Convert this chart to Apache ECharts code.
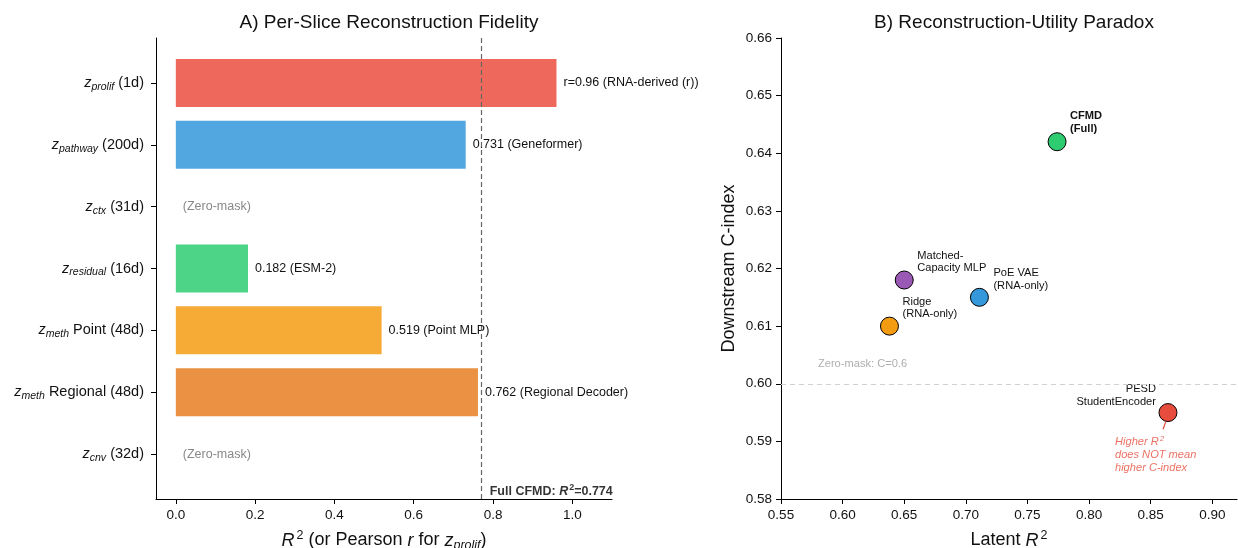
<!DOCTYPE html>
<html>
<head>
<meta charset="utf-8">
<script src="https://cdn.jsdelivr.net/npm/echarts@6/dist/echarts.min.js"></script>
<style>html,body{margin:0;padding:0;background:#fff}#c{width:1238px;height:548px}</style>
</head>
<body>
<div id="c"></div>
<script>
// ---- Panel A data ----
var sliceSubs = ['prolif', 'pathway', 'ctx', 'residual', 'meth', 'meth', 'cnv'];
var sliceSuffix = ['(1d)', '(200d)', '(31d)', '(16d)', 'Point (48d)', 'Regional (48d)', '(32d)'];
var sliceR2 = [0.96, 0.731, 0, 0.182, 0.519, 0.762, 0];
var sliceNotes = ['r=0.96 (RNA-derived (r))', '0.731 (Geneformer)', '(Zero-mask)', '0.182 (ESM-2)', '0.519 (Point MLP)', '0.762 (Regional Decoder)', '(Zero-mask)'];
var sliceColors = ['#EE695C', '#52A7E0', '#9b59b6', '#4DD486', '#F5AB36', '#EA9143', '#95a5a6'];
var fullCFMD = 0.774;
var xTicksA = [0, 0.2, 0.4, 0.6, 0.8, 1.0];

// ---- Panel B data ----
var methodNames = ['CFMD\n(Full)', 'Matched-\nCapacity MLP', 'PoE VAE\n(RNA-only)', 'Ridge\n(RNA-only)', 'PESD\nStudentEncoder'];
var latentR2 = [0.774, 0.650, 0.711, 0.638, 0.864];
var cIndex = [0.642, 0.618, 0.615, 0.610, 0.595];
var methodColors = ['#2ecc71', '#9b59b6', '#3498db', '#f39c12', '#e74c3c'];
var zeroMaskC = 0.6;

var FONT = 'Liberation Sans, Arial, sans-serif';
var chart = echarts.init(document.getElementById('c'));

var categories = sliceSubs.map(function (s, i) { return 'z_' + s + ' ' + sliceSuffix[i]; });

var barData = sliceR2.map(function (v, i) {
  return {
    value: v,
    itemStyle: { color: sliceColors[i] },
    label: { color: v === 0 ? '#888' : '#111' }
  };
});

// label placement per method (relative to marker centre)
var labelAlign = ['left', 'left', 'left', 'left', 'right'];
var labelOffset = [[13, -19], [13, -18], [14, -18], [13, -18], [-12, -17]];
var labelBold = [true, false, false, false, false];

var scatterData = latentR2.map(function (x, i) {
  return {
    value: [x, cIndex[i]],
    itemStyle: { color: methodColors[i] },
    label: {
      show: true,
      formatter: methodNames[i],
      position: 'inside',
      align: labelAlign[i],
      verticalAlign: 'middle',
      offset: labelOffset[i],
      fontWeight: labelBold[i] ? 'bold' : 'normal',
      fontSize: 11.1,
      lineHeight: 12.6,
      color: '#111',
      fontFamily: FONT
    }
  };
});

var option = {
  animation: false,
  backgroundColor: '#fff',
  textStyle: { fontFamily: FONT },
  title: [
    { text: 'A) Per-Slice Reconstruction Fidelity', left: 384, top: 8, textAlign: 'center',
      textStyle: { fontSize: 19, fontWeight: 'normal', color: '#111', fontFamily: FONT } },
    { text: 'B) Reconstruction-Utility Paradox', left: 1009, top: 8, textAlign: 'center',
      textStyle: { fontSize: 19, fontWeight: 'normal', color: '#111', fontFamily: FONT } }
  ],
  grid: [
    { left: 156, right: 626, top: 38, bottom: 49, containLabel: false, outerBoundsMode: 'none' },
    { left: 156, right: 626, top: 52, bottom: 63, containLabel: false, outerBoundsMode: 'none' },
    { left: 781, right: 1, top: 38, bottom: 49, containLabel: false, outerBoundsMode: 'none' }
  ],
  xAxis: [
    {
      gridIndex: 0, type: 'value', min: -0.05, max: 1.1,
      axisLine: { show: true, onZero: false, lineStyle: { color: '#000', width: 1 } },
      axisTick: { show: true, length: 5, lineStyle: { color: '#000' }, customValues: xTicksA },
      axisLabel: { color: '#111', fontSize: 13.5, margin: 9, fontFamily: FONT, customValues: xTicksA,
        formatter: function (v) { return v.toFixed(1); } },
      splitLine: { show: false },
      name: '{i|R}{sup|2}{t| (or Pearson }{i|r}{t| for }{i|z}{sub|prolif}{t|)}',
      nameLocation: 'middle', nameGap: 30,
      nameTextStyle: {
        fontSize: 18, color: '#111', fontFamily: FONT,
        rich: {
          t: { fontSize: 18, fontFamily: FONT, color: '#111' },
          i: { fontSize: 18, fontStyle: 'italic', fontFamily: FONT, color: '#111' },
          sup: { fontSize: 12.5, fontFamily: FONT, color: '#111', padding: [0, 0, 10, 2] },
          sub: { fontSize: 12.5, fontStyle: 'italic', fontFamily: FONT, color: '#111', padding: [10, 0, 0, 0] }
        }
      }
    },
    {
      gridIndex: 1, type: 'value', min: -0.05, max: 1.1, show: false
    },
    {
      gridIndex: 2, type: 'value', min: 0.55, max: 0.92, interval: 0.05,
      axisLine: { show: true, onZero: false, lineStyle: { color: '#000', width: 1 } },
      axisTick: { show: true, length: 5, lineStyle: { color: '#000' } },
      axisLabel: { color: '#111', fontSize: 13.5, margin: 9, fontFamily: FONT, showMaxLabel: false,
        formatter: function (v) { return v.toFixed(2); } },
      splitLine: { show: false },
      name: '{t|Latent }{i|R}{sup|2}',
      nameLocation: 'middle', nameGap: 30,
      nameTextStyle: {
        fontSize: 18, color: '#111', fontFamily: FONT,
        rich: {
          t: { fontSize: 18, fontFamily: FONT, color: '#111' },
          i: { fontSize: 18, fontStyle: 'italic', fontFamily: FONT, color: '#111' },
          sup: { fontSize: 12.5, fontFamily: FONT, color: '#111', padding: [0, 0, 10, 2] }
        }
      }
    }
  ],
  yAxis: [
    {
      gridIndex: 0, type: 'value', min: 0, max: 1,
      axisLine: { show: true, onZero: false, lineStyle: { color: '#000', width: 1 } },
      axisTick: { show: false }, axisLabel: { show: false }, splitLine: { show: false }
    },
    {
      gridIndex: 1, type: 'category', data: categories, inverse: true,
      axisLine: { show: false, onZero: false },
      axisTick: { show: true, alignWithLabel: true, length: 5, lineStyle: { color: '#000' } },
      axisLabel: {
        margin: 12, color: '#111', fontFamily: FONT,
        formatter: function (v, idx) {
          return '{z|z}{sub|' + sliceSubs[idx] + '}{t| ' + sliceSuffix[idx] + '}';
        },
        rich: {
          z: { fontSize: 14.5, fontStyle: 'italic', fontFamily: FONT, color: '#111' },
          sub: { fontSize: 10.5, fontStyle: 'italic', fontFamily: FONT, color: '#111', padding: [8, 0, 0, 0] },
          t: { fontSize: 14.5, fontFamily: FONT, color: '#111' }
        }
      },
      splitLine: { show: false }
    },
    {
      gridIndex: 2, type: 'value', min: 0.58, max: 0.66, interval: 0.01,
      axisLine: { show: true, onZero: false, lineStyle: { color: '#000', width: 1 } },
      axisTick: { show: true, length: 5, lineStyle: { color: '#000' } },
      axisLabel: { color: '#111', fontSize: 13.5, margin: 9, fontFamily: FONT,
        formatter: function (v) { return v.toFixed(2); } },
      splitLine: { show: false },
      name: 'Downstream C-index', nameLocation: 'middle', nameGap: 43,
      nameTextStyle: { fontSize: 18, color: '#111', fontFamily: FONT }
    }
  ],
  series: [
    {
      type: 'bar', xAxisIndex: 1, yAxisIndex: 1,
      data: barData, barWidth: 48,
      label: {
        show: true, position: 'right', distance: 7, fontSize: 12.5, fontFamily: FONT,
        formatter: function (p) { return sliceNotes[p.dataIndex]; }
      }
    },
    {
      type: 'scatter', xAxisIndex: 0, yAxisIndex: 0,
      data: [[fullCFMD, 0.017]], symbolSize: 0, silent: true,
      label: {
        show: true, position: 'right', distance: 7, fontFamily: FONT,
        formatter: '{b|Full CFMD: }{bi|R}{sup|2}{b|=' + fullCFMD.toFixed(3) + '}',
        rich: {
          b: { fontSize: 12.5, fontWeight: 'bold', fontFamily: FONT, color: '#000' },
          bi: { fontSize: 12.5, fontWeight: 'bold', fontStyle: 'italic', fontFamily: FONT, color: '#000' },
          sup: { fontSize: 9, fontWeight: 'bold', fontFamily: FONT, color: '#000', padding: [0, 0, 7, 1] }
        }
      },
      markLine: {
        silent: true, symbol: ['none', 'none'],
        label: { show: false },
        lineStyle: { color: '#666', type: [5, 3], width: 1.2 },
        data: [{ xAxis: fullCFMD }]
      }
    },
    {
      type: 'scatter', xAxisIndex: 2, yAxisIndex: 2,
      data: [[0.58, 0.6035]], symbolSize: 0, silent: true,
      label: {
        show: true, position: 'inside', align: 'left', verticalAlign: 'middle',
        formatter: 'Zero-mask: C=' + zeroMaskC, fontSize: 11.1, color: '#999', fontFamily: FONT
      },
      markLine: {
        silent: true, symbol: ['none', 'none'],
        label: { show: false },
        lineStyle: { color: '#d0d0d0', type: [5, 4], width: 1 },
        data: [{ yAxis: zeroMaskC }]
      }
    },
    {
      type: 'scatter', xAxisIndex: 2, yAxisIndex: 2,
      data: scatterData, symbolSize: 18,
      itemStyle: { borderColor: '#000', borderWidth: 1, opacity: 1 },
      markLine: {
        silent: true, symbol: ['none', 'none'],
        label: { show: false },
        lineStyle: { color: '#e74c3c', type: 'solid', width: 1.2 },
        data: [[{ coord: [0.860, 0.5921] }, { coord: [0.8622, 0.5934] }]]
      }
    },
    {
      type: 'scatter', xAxisIndex: 2, yAxisIndex: 2,
      data: [[0.864, 0.595]], symbolSize: 0, silent: true,
      label: {
        show: true, position: 'inside', align: 'left', verticalAlign: 'middle',
        offset: [-53, 42], lineHeight: 13, fontFamily: FONT,
        formatter: '{i|Higher R}{sup|2}\n{i|does NOT mean}\n{i|higher C-index}',
        rich: {
          i: { fontSize: 11.1, fontStyle: 'italic', color: '#e74c3c', fontFamily: FONT, lineHeight: 13 },
          sup: { fontSize: 8, fontStyle: 'italic', color: '#e74c3c', fontFamily: FONT, padding: [0, 0, 6, 1] }
        }
      }
    }
  ]
};
chart.setOption(option);
</script>
</body>
</html>
